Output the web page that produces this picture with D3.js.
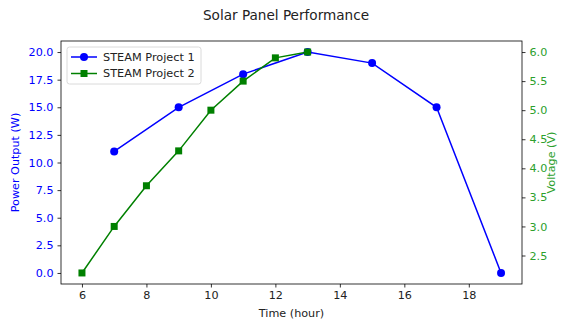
<!DOCTYPE html>
<html>
<head>
<meta charset="utf-8">
<script src="https://cdn.jsdelivr.net/npm/d3@7"></script>
<style>
  body { margin: 0; background: #fff; }
  svg { font-family: "DejaVu Sans", sans-serif; }
</style>
</head>
<body>
<div class="chart"></div>
<script>
// data
let hours1 = [7, 9, 11, 13, 15, 17, 19];
let power = [11, 15, 18, 20, 19, 15, 0];
let hours2 = [6, 7, 8, 9, 10, 11, 12, 13];
let voltage = [2.2, 3.0, 3.7, 4.3, 5.0, 5.5, 5.9, 6.0];
let xTicks = [6, 8, 10, 12, 14, 16, 18];
let powerTicks = [0, 2.5, 5, 7.5, 10, 12.5, 15, 17.5, 20];
let voltTicks = [2.5, 3.0, 3.5, 4.0, 4.5, 5.0, 5.5, 6.0];
let seriesNames = ["STEAM Project 1", "STEAM Project 2"];

const BLUE = "#0000ff", GREEN = "#008000", GREEN_TXT = "#2ca02c";

let svg = d3.select(".chart").append("svg").attr("width", 562).attr("height", 323);

let margin = {top: 41, right: 40, bottom: 39, left: 61},
    width = 562 - margin.left - margin.right,
    height = 323 - margin.top - margin.bottom,
    g = svg.append("g").attr("transform", "translate(" + margin.left + "," + margin.top + ")");

let x = d3.scaleLinear().domain([5.35, 19.65]).range([0, width]);
let yLeft = d3.scaleLinear().domain([-1, 21]).range([height, 0]);
let yRight = d3.scaleLinear().domain([2.01, 6.19]).range([height, 0]);

function styleAxis(sel, color) {
    sel.attr("font-size", "11.2px").attr("font-family", "DejaVu Sans, sans-serif");
    sel.select(".domain").remove();
    sel.selectAll(".tick line").attr("stroke", "#000").attr("stroke-width", 0.8);
    sel.selectAll(".tick text").attr("fill", color);
}

g.append("g")
    .attr("transform", "translate(0," + height + ")")
    .call(d3.axisBottom(x).tickValues(xTicks).tickSize(3.5).tickPadding(4).tickFormat(d3.format("d")))
    .call(styleAxis, "#222");

g.append("g")
    .call(d3.axisLeft(yLeft).tickValues(powerTicks).tickSize(3.5).tickPadding(4).tickFormat(d3.format(".1f")))
    .call(styleAxis, BLUE);

g.append("g")
    .attr("transform", "translate(" + width + ",0)")
    .call(d3.axisRight(yRight).tickValues(voltTicks).tickSize(3.5).tickPadding(4).tickFormat(d3.format(".1f")))
    .call(styleAxis, GREEN_TXT);

// frame
g.append("rect").attr("width", width).attr("height", height)
    .attr("fill", "none").attr("stroke", "#000").attr("stroke-width", 0.8);

// series 1 - power
let line1 = d3.line().x(function (d) { return x(d[0]); }).y(function (d) { return yLeft(d[1]); });
let pts1 = hours1.map(function (h, i) { return [h, power[i]]; });
g.append("path").datum(pts1).attr("d", line1)
    .attr("fill", "none").attr("stroke", BLUE).attr("stroke-width", 1.5);
g.selectAll(".dot1").data(pts1).enter().append("circle")
    .attr("cx", function (d) { return x(d[0]); })
    .attr("cy", function (d) { return yLeft(d[1]); })
    .attr("r", 4).attr("fill", BLUE);

// series 2 - voltage
let line2 = d3.line().x(function (d) { return x(d[0]); }).y(function (d) { return yRight(d[1]); });
let pts2 = hours2.map(function (h, i) { return [h, voltage[i]]; });
g.append("path").datum(pts2).attr("d", line2)
    .attr("fill", "none").attr("stroke", GREEN).attr("stroke-width", 1.5);
g.selectAll(".sq2").data(pts2).enter().append("rect")
    .attr("x", function (d) { return x(d[0]) - 3.5; })
    .attr("y", function (d) { return yRight(d[1]) - 3.5; })
    .attr("width", 7).attr("height", 7).attr("fill", GREEN);

// legend
let legend = g.append("g").attr("transform", "translate(6,6)");
legend.append("rect").attr("width", 134).attr("height", 37).attr("rx", 2.5)
    .attr("fill", "#fff").attr("fill-opacity", 0.8).attr("stroke", "#d0d0d0").attr("stroke-width", 0.8);
let colors = [BLUE, GREEN];
seriesNames.forEach(function (name, i) {
    let row = legend.append("g").attr("transform", "translate(0," + (10 + i * 16.5) + ")");
    row.append("line").attr("x1", 4).attr("x2", 30).attr("stroke", colors[i]).attr("stroke-width", 1.5);
    if (i === 0) {
        row.append("circle").attr("cx", 17).attr("r", 4).attr("fill", colors[i]);
    } else {
        row.append("rect").attr("x", 13.5).attr("y", -3.5).attr("width", 7).attr("height", 7).attr("fill", colors[i]);
    }
    row.append("text").attr("x", 36).attr("dy", "0.35em").attr("font-size", "11.3px")
        .attr("fill", "#222").text(name);
});

// labels
svg.append("text").attr("x", 286).attr("y", 20).attr("text-anchor", "middle")
    .attr("font-size", "13.6px").attr("fill", "#222").text("Solar Panel Performance");
svg.append("text").attr("x", margin.left + width / 2).attr("y", 317).attr("text-anchor", "middle")
    .attr("font-size", "11.2px").attr("fill", "#222").text("Time (hour)");
svg.append("text").attr("transform", "translate(19," + (margin.top + height / 2) + ") rotate(-90)")
    .attr("text-anchor", "middle").attr("font-size", "11.2px").attr("fill", BLUE).text("Power Output (W)");
svg.append("text").attr("transform", "translate(555," + (margin.top + height / 2) + ") rotate(-90)")
    .attr("text-anchor", "middle").attr("font-size", "11.2px").attr("fill", GREEN_TXT).text("Voltage (V)");
</script>
</body>
</html>
